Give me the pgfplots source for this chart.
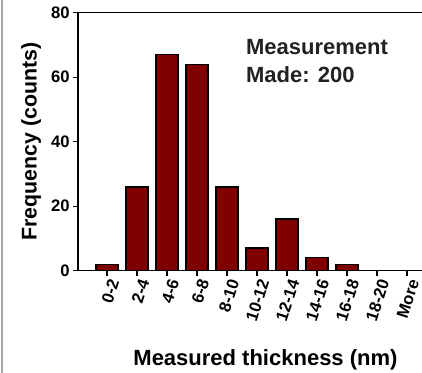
\documentclass[border=0pt]{standalone}
\usepackage{pgfplots}
\pgfplotsset{compat=1.18}
\usepackage{fontspec}
\setmainfont{Liberation Sans}
\definecolor{barred}{HTML}{800000}
\definecolor{anno}{HTML}{222222}
\newcommand{\tk}{\fontsize{12.5}{14}\selectfont\bfseries}
\newcommand{\xk}{\fontsize{12.5}{14}\selectfont\bfseries}
\begin{document}
\begin{tikzpicture}[x=0.75pt,y=0.75pt]
\useasboundingbox (0,0) rectangle (422,373);
\fill[white] (0,0) rectangle (422,373);
\draw[gray!70, line width=1.2pt] (2,0) -- (2,373);
\begin{axis}[
  at={(78*0.75pt,102.3*0.75pt)}, anchor=south west,
  scale only axis, width=258pt, height=193.5pt,
  xmin=-0.967, xmax=10.5, ymin=0, ymax=80,
  axis x line*=box, axis y line*=left,
  xtick pos=bottom, ytick pos=left,
  tick align=outside, major tick length=4pt,
  every tick/.style={black, line width=1pt},
  axis line style={line width=1pt, black},
  ytick={0,20,40,60,80},
  yticklabels={{\tk 0},{\tk 20},{\tk 40},{\tk 60},{\tk 80}},
  xtick={0,...,10},
  xticklabels={{\xk 0-2},{\xk 2-4},{\xk 4-6},{\xk 6-8},{\xk 8-10},{\xk 10-12},{\xk 12-14},{\xk 14-16},{\xk 16-18},{\xk 18-20},{\xk More}},
  xticklabel style={rotate=72, anchor=east, inner sep=1pt, yshift=-6pt},
  yticklabel style={inner sep=2pt},
  xlabel={Measured thickness (nm)},
  ylabel={Frequency (counts)},
  xlabel style={font=\fontsize{16.5}{18}\selectfont\bfseries, at={(axis description cs:0.545,0)}, anchor=base, yshift=-71pt},
  ylabel style={font=\fontsize{16}{18}\selectfont\bfseries, yshift=2pt},
  clip=false,
]
\addplot[ybar, bar width=0.73, fill=barred, draw=black, line width=1pt] coordinates {
(0,2) (1,26) (2,67) (3,64) (4,26) (5,7) (6,16) (7,4) (8,2) (9,0) (10,0)
};
\node[anchor=north west, align=left, text=anno, font=\fontsize{16.5}{21}\selectfont\bfseries, inner sep=0pt] at (axis cs:4.63,71.8) {Measurement\\Made: 200};
\end{axis}
\end{tikzpicture}
\end{document}
